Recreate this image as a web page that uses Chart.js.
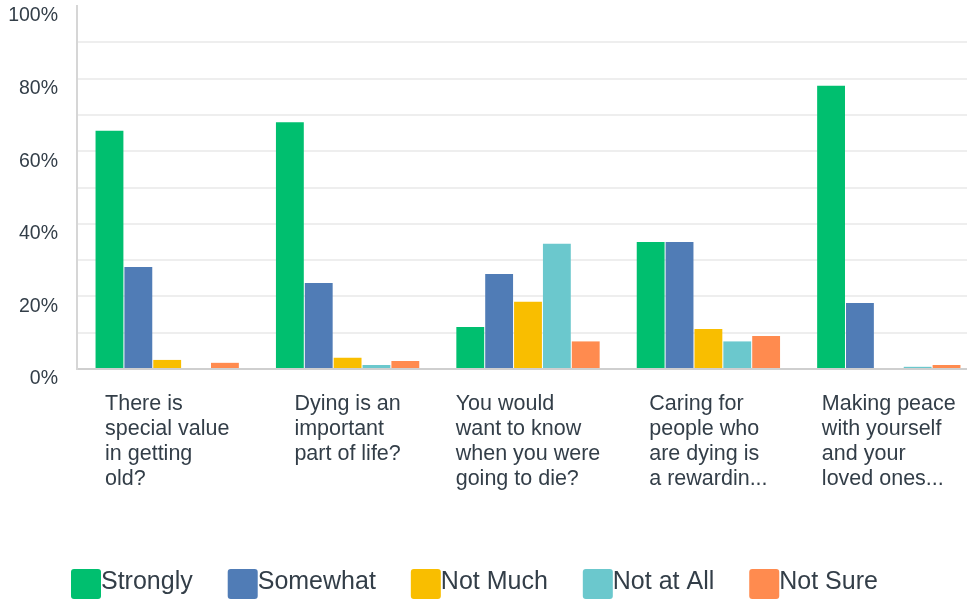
<!DOCTYPE html>
<html>
<head>
<meta charset="utf-8">
<script src="https://cdn.jsdelivr.net/npm/chart.js@4.4.1/dist/chart.umd.min.js"></script>
<style>
html,body{margin:0;padding:0;overflow:hidden;background:#fff;}
#wrap{width:979px;height:599px;position:relative;}
</style>
</head>
<body>
<div id="wrap"><canvas id="c"></canvas></div>
<script>
const categories = [
  ["There is", "special value", "in getting", "old?"],
  ["Dying is an", "important", "part of life?"],
  ["You would", "want to know", "when you were", "going to die?"],
  ["Caring for", "people who", "are dying is", "a rewardin..."],
  ["Making peace", "with yourself", "and your", "loved ones..."]
];
const seriesNames = ["Strongly", "Somewhat", "Not Much", "Not at All", "Not Sure"];
const strongly = [65.6, 68.0, 11.6, 35.0, 78.0];
const somewhat = [28.1, 23.7, 26.2, 35.0, 18.2];
const notMuch  = [2.5, 3.1, 18.5, 11.0, 0];
const notAtAll = [0, 1.1, 34.5, 7.6, 0.6];
const notSure  = [1.7, 2.2, 7.6, 9.1, 1.1];
const seriesColors = ["#00bf6f", "#507cb6", "#f9be00", "#6bc8cd", "#ff8b4f"];
const yMax = 100, yStep = 10, yLabelEvery = 20;

const FONT = "'Liberation Sans', Arial, Helvetica, sans-serif";
const TEXT = "#333e48";

const xLabelPlugin = {
  id: 'xLabels',
  afterDraw(chart) {
    const ctx = chart.ctx;
    const xs = chart.scales.x;
    const top = chart.chartArea.bottom;
    ctx.save();
    ctx.font = "21.5px " + FONT;
    ctx.fillStyle = TEXT;
    ctx.textAlign = 'left';
    ctx.textBaseline = 'alphabetic';
    categories.forEach((lines, i) => {
      const cx = xs.getPixelForValue(i);
      const w = Math.max(...lines.map(l => ctx.measureText(l).width));
      const left = cx - w / 2;
      lines.forEach((l, j) => ctx.fillText(l, left, top + 41 + j * 25));
    });
    ctx.restore();
  }
};

const legendPlugin = {
  id: 'customLegend',
  afterDraw(chart) {
    const ctx = chart.ctx;
    ctx.save();
    ctx.font = "25px " + FONT;
    ctx.textBaseline = 'alphabetic';
    ctx.textAlign = 'left';
    let x = 71;
    const boxTop = 569, box = 30, gap = 35;
    chart.data.datasets.forEach(ds => {
      ctx.fillStyle = ds.backgroundColor;
      ctx.beginPath();
      if (ctx.roundRect) ctx.roundRect(x, boxTop, box, box, 3); else ctx.rect(x, boxTop, box, box);
      ctx.fill();
      ctx.fillStyle = TEXT;
      ctx.fillText(ds.label, x + box, boxTop + 20);
      x += box + ctx.measureText(ds.label).width + gap;
    });
    ctx.restore();
  }
};

const allSeries = [strongly, somewhat, notMuch, notAtAll, notSure];

new Chart(document.getElementById('c'), {
  type: 'bar',
  data: {
    labels: categories.map(c => c.join(' ')),
    datasets: allSeries.map((d, i) => ({
      label: seriesNames[i],
      data: d,
      backgroundColor: seriesColors[i],
      borderWidth: 0,
      categoryPercentage: 0.8,
      barPercentage: 0.965
    }))
  },
  options: {
    responsive: true,
    maintainAspectRatio: false,
    animation: false,
    layout: { padding: { top: 6, bottom: 230, left: 0, right: 0 } },
    plugins: { legend: { display: false }, tooltip: { enabled: false } },
    scales: {
      x: {
        ticks: { display: false },
        grid: { display: false, drawTicks: false },
        border: { display: true, color: '#cfcfcf', width: 2 }
      },
      y: {
        min: 0, max: yMax,
        afterFit(scale) { scale.width = 77; scale.paddingTop = 0; scale.paddingBottom = 0; },
        ticks: {
          stepSize: yStep,
          padding: 19,
          labelOffset: 10,
          color: TEXT,
          font: { family: FONT, size: 19.5, lineHeight: 0.5 },
          callback: v => (v % yLabelEvery === 0 ? v + '%' : '')
        },
        grid: {
          drawTicks: false,
          lineWidth: 2,
          color: c => (c.tick && (c.tick.value === yMax || c.tick.value === 0)) ? 'rgba(0,0,0,0)' : '#eeeeee'
        },
        border: { display: true, color: '#d6d6d6', width: 2 }
      }
    }
  },
  plugins: [xLabelPlugin, legendPlugin]
});
</script>
</body>
</html>
